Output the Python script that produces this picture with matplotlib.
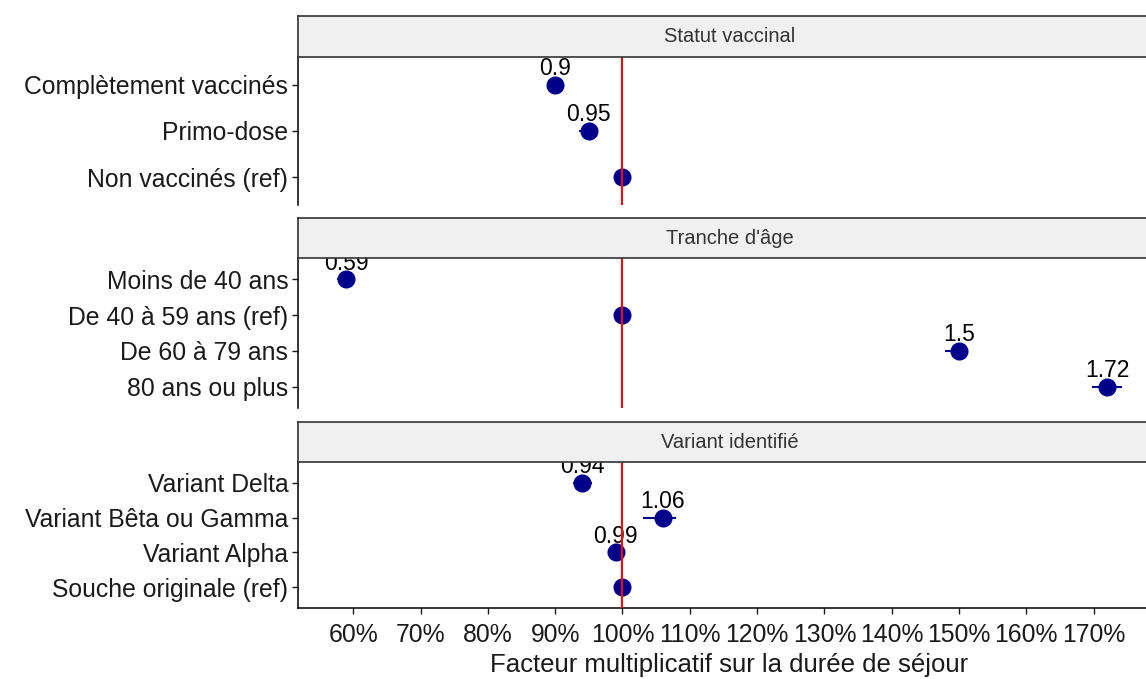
import matplotlib.pyplot as plt
from matplotlib.ticker import FuncFormatter

plt.rcParams['font.family'] = ['Liberation Sans', 'DejaVu Sans']

# facets, top to bottom
facets = ["Statut vaccinal", "Tranche d'âge", "Variant identifié"]

# rows of each facet, listed bottom to top
vacc_rows = ["Non vaccinés (ref)", "Primo-dose", "Complètement vaccinés"]
vacc_est = [1.00, 0.95, 0.90]
vacc_lo = [1.00, 0.935, 0.89]
vacc_hi = [1.00, 0.963, 0.913]

age_rows = ["80 ans ou plus", "De 60 à 79 ans", "De 40 à 59 ans (ref)", "Moins de 40 ans"]
age_est = [1.72, 1.50, 1.00, 0.59]
age_lo = [1.697, 1.479, 1.00, 0.576]
age_hi = [1.742, 1.514, 1.00, 0.60]

var_rows = ["Souche originale (ref)", "Variant Alpha", "Variant Bêta ou Gamma", "Variant Delta"]
var_est = [1.00, 0.99, 1.06, 0.94]
var_lo = [1.00, 0.98, 1.031, 0.926]
var_hi = [1.00, 1.00, 1.080, 0.955]

x_ticks = [0.6, 0.7, 0.8, 0.9, 1.0, 1.1, 1.2, 1.3, 1.4, 1.5, 1.6, 1.7]

W, H = 1146, 679
NAVY = "#00008B"
TXT = "#1a1a1a"


def rect(left, top, right, bottom):
    return [left / W, 1 - bottom / H, (right - left) / W, (bottom - top) / H]


fig = plt.figure(figsize=(W / 100, H / 100), dpi=100)

groups = [
    (vacc_rows, vacc_est, vacc_lo, vacc_hi),
    (age_rows, age_est, age_lo, age_hi),
    (var_rows, var_est, var_lo, var_hi),
]
# (strip top, panel top, panel bottom) in pixels
bands = [(16, 57, 205), (218, 258, 408), (422, 462, 608)]
x0, x1 = 298, 1161

for i, (title, (rows, est, lo, hi), (st, pt, pb)) in enumerate(zip(facets, groups, bands)):
    ax = fig.add_axes(rect(x0, pt, x1, pb))
    ys = list(range(1, len(rows) + 1))

    for y, e, a, b in zip(ys, est, lo, hi):
        ax.plot([a, b], [y, y], color=NAVY, lw=1.5, solid_capstyle="butt", zorder=2)
    ax.plot(est, ys, "o", color=NAVY, ms=12, zorder=3)
    for y, e, r in zip(ys, est, rows):
        if "(ref)" in r:
            continue
        ax.annotate(f"{e:g}", (e, y), xytext=(0, 7), textcoords="offset points",
                    ha="center", va="baseline", fontsize=16.5, color="black",
                    annotation_clip=False, clip_on=True, zorder=4)
    ax.axvline(1.0, color="red", lw=1.5, zorder=5)

    ax.set_xlim(0.518, 1.80)
    ax.set_ylim(0.4, len(rows) + 0.6)
    ax.set_yticks(ys)
    ax.set_yticklabels(rows)
    ax.tick_params(axis="y", length=4, width=1, pad=3, labelsize=17.8, colors=TXT)
    for side in ("top", "right"):
        ax.spines[side].set_visible(False)
    ax.spines["left"].set_linewidth(1.1)

    ax.set_xticks(x_ticks)
    ax.xaxis.set_major_formatter(FuncFormatter(lambda v, p: f"{v * 100:.0f}%"))
    if i < len(facets) - 1:
        ax.spines["bottom"].set_visible(False)
        ax.tick_params(axis="x", bottom=False, labelbottom=False)
    else:
        ax.spines["bottom"].set_linewidth(1.1)
        ax.tick_params(axis="x", length=4, width=1, pad=7, labelsize=17.8, colors=TXT)
        ax.set_xlabel("Facteur multiplicatif sur la durée de séjour", fontsize=18.5,
                      color=TXT, labelpad=4)

    # facet strip
    sax = fig.add_axes(rect(x0, st, x1, pt))
    sax.set_facecolor("#F0F0F0")
    sax.set_xticks([])
    sax.set_yticks([])
    for sp in sax.spines.values():
        sp.set_color("#333333")
        sp.set_linewidth(1.2)
    sax.text(0.5, 0.5, title, ha="center", va="center", fontsize=14.5, color="#333333",
             transform=sax.transAxes)

fig.savefig("out.png", dpi=100)
